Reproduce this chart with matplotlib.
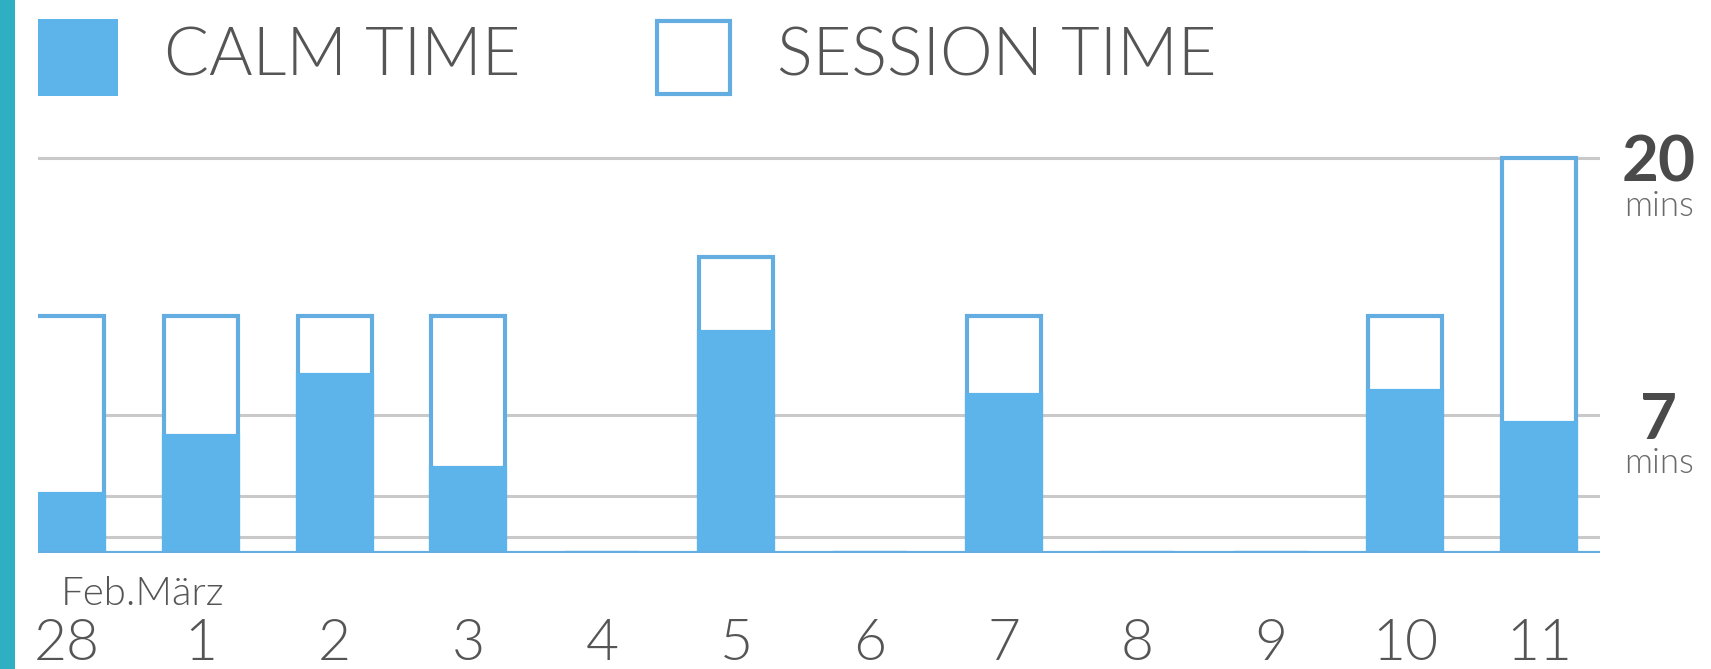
import matplotlib
matplotlib.use('Agg')
import matplotlib.pyplot as plt
from matplotlib.patches import Rectangle
import matplotlib.transforms as mtransforms

plt.rcParams['font.family'] = ['Lato', 'DejaVu Sans']

# Daily meditation minutes
days = ['28', '1', '2', '3', '4', '5', '6', '7', '8', '9', '10', '11']
session_mins = [12, 12, 12, 12, 0, 15, 0, 12, 0, 0, 12, 20]
calm_mins = [3.0, 5.9, 9.0, 4.3, 0, 11.2, 0, 8.0, 0, 0, 8.2, 6.6]
grid_mins = [0.8, 2.9, 7, 20]
labelled_mins = [20, 7]
month_label = 'Feb.März'

BLUE = '#5db4ea'
EDGE = '#64ade0'
GRID = '#c9c9c9'
TEXT = '#555555'

W, H = 1711, 669
fig = plt.figure(figsize=(W / 100, H / 100), dpi=100)
fig.patch.set_facecolor('white')

ax = fig.add_axes([38 / W, (H - 553) / H, (1600 - 38) / W, 21 * 19.75 / H])
ax.set_xlim(-0.2167, 11.457)
ax.set_ylim(0, 21)
ax.axis('off')

x = range(len(days))
for g in grid_mins:
    ax.axhline(g, color=GRID, lw=2.2, zorder=1)

ax.bar(x, session_mins, width=0.553, facecolor='white', edgecolor=EDGE,
       linewidth=3, zorder=2)
ax.bar(x, calm_mins, width=0.553, facecolor=BLUE, edgecolor=BLUE,
       linewidth=3, zorder=3)
ax.axhline(0, color=EDGE, lw=3, zorder=4)

# day labels under the axis
xt = ax.get_xaxis_transform()
for i, d in zip(x, days):
    ax.text(i, -0.258, d, transform=xt, ha='center', va='baseline',
            fontsize=41, color=TEXT, fontweight=300)
ax.text(-0.045, -0.125, month_label, transform=xt, ha='left', va='baseline',
        fontsize=29, color=TEXT, fontweight=300)

# value labels on the right
yt = ax.get_yaxis_transform()
for m in labelled_mins:
    num_tf = yt + mtransforms.ScaledTranslation(0, -24 / 100, fig.dpi_scale_trans)
    unit_tf = yt + mtransforms.ScaledTranslation(0, -58 / 100, fig.dpi_scale_trans)
    ax.text(1.0375, m, str(m), transform=num_tf, ha='center', va='baseline',
            fontsize=46, fontweight='bold', color='#4a4a4a')
    ax.text(1.0375, m, 'mins', transform=unit_tf, ha='center', va='baseline',
            fontsize=25, color='#6a6a6a', fontweight=300)

# legend
fig.add_artist(Rectangle((38 / W, (H - 96) / H), 80 / W, 77 / H,
                         transform=fig.transFigure, facecolor=BLUE, edgecolor='none'))
fig.add_artist(Rectangle((657 / W, (H - 94) / H), 73 / W, 73 / H,
                         transform=fig.transFigure, facecolor='white',
                         edgecolor=EDGE, linewidth=3))
fig.text(164 / W, (H - 57.5) / H, 'CALM TIME', ha='left', va='center',
         fontsize=48, color=TEXT, fontweight=300)
fig.text(777 / W, (H - 57.5) / H, 'SESSION TIME', ha='left', va='center',
         fontsize=48, color=TEXT, fontweight=300)

# app background edge on the left
fig.add_artist(Rectangle((0, 0), 15 / W, 1, transform=fig.transFigure,
                         facecolor='#2fb0c2', edgecolor='none'))

fig.savefig('out.png', dpi=100)
